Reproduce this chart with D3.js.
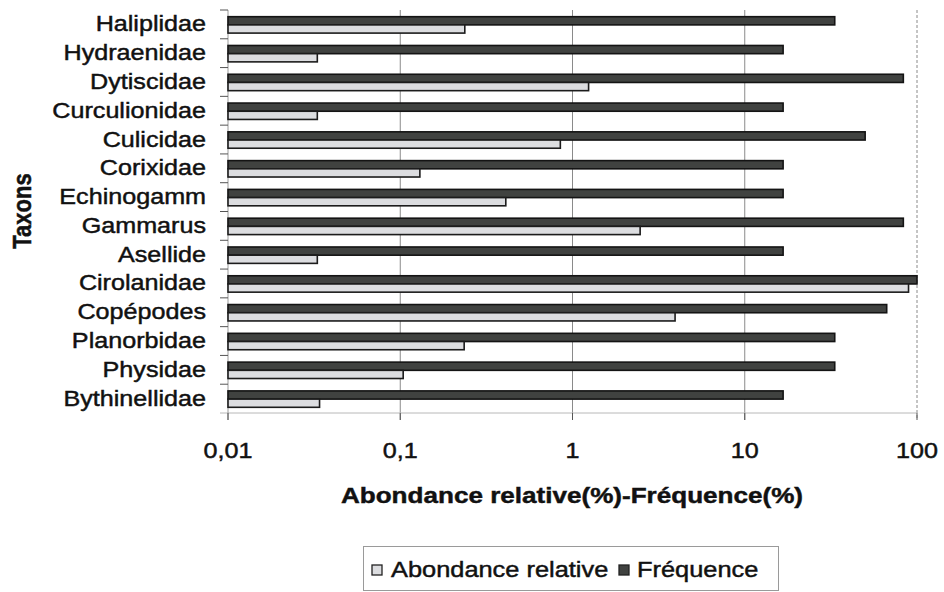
<!DOCTYPE html>
<html>
<head>
<meta charset="utf-8">
<script src="https://cdn.jsdelivr.net/npm/d3@7"></script>
<style>
  html, body { margin: 0; padding: 0; background: #fff; }
  svg { display: block; font-family: "Liberation Sans", Arial, sans-serif; }
  text { stroke: #111; stroke-width: 0.45px; }
</style>
</head>
<body>
<svg id="chart" width="944" height="592"></svg>
<script>
// --- data (log axis, %) ---
const taxa = ['Haliplidae', 'Hydraenidae', 'Dytiscidae', 'Curculionidae', 'Culicidae',
  'Corixidae', 'Echinogamm', 'Gammarus', 'Asellide', 'Cirolanidae', 'Copépodes',
  'Planorbidae', 'Physidae', 'Bythinellidae'];
const frequence = [33.3, 16.7, 83.3, 16.7, 50, 16.7, 16.7, 83.3, 16.7, 100, 66.7, 33.3, 33.3, 16.7];
const abondance = [0.237, 0.033, 1.24, 0.033, 0.85, 0.13, 0.41, 2.47, 0.033, 89.3, 3.94, 0.235, 0.104, 0.034];
const xTicks = [0.01, 0.1, 1, 10, 100];
const seriesNames = ['Abondance relative', 'Fréquence'];

// the scan is stretched sideways, so text gets the same stretch
const SX = 1.17;
const stretch = (x, y) => `translate(${x},${y}) scale(${SX},1)`;

const svg = d3.select('#chart');
const plotL = 228, plotR = 917, plotT = 10, plotB = 413;

const x = d3.scaleLog().domain([0.01, 100]).range([plotL, plotR]);
const y = d3.scaleBand().domain(taxa).range([plotT, plotB]);
const barH = 8.2;

// gridlines
svg.append('g')
  .selectAll('line')
  .data(xTicks.slice(1))
  .join('line')
  .attr('x1', d => x(d)).attr('x2', d => x(d))
  .attr('y1', plotT).attr('y2', plotB + 7)
  .attr('stroke', '#8a8a8a')
  .attr('stroke-width', 1)
  .attr('stroke-dasharray', d => d === 100 ? '3,2' : null);

// axis lines
svg.append('line')
  .attr('x1', plotL - 8).attr('x2', plotR)
  .attr('y1', plotB).attr('y2', plotB)
  .attr('stroke', '#b8b8b8');
svg.append('line')
  .attr('x1', plotL).attr('x2', plotL)
  .attr('y1', plotT).attr('y2', plotB + 7)
  .attr('stroke', '#9a9a9a');

// category ticks (band boundaries)
svg.append('g')
  .selectAll('line')
  .data(taxa)
  .join('line')
  .attr('x1', plotL - 8).attr('x2', plotL)
  .attr('y1', d => y(d)).attr('y2', d => y(d))
  .attr('stroke', '#555');

// bars
const rows = taxa.map((t, i) => ({ t, f: frequence[i], a: abondance[i] }));
const gRows = svg.append('g').selectAll('g')
  .data(rows)
  .join('g')
  .attr('transform', d => `translate(0,${y(d.t) + y.bandwidth() / 2 + 0.5})`);

gRows.append('rect')
  .attr('x', x(0.01))
  .attr('y', -barH)
  .attr('width', d => x(d.f) - x(0.01))
  .attr('height', barH)
  .attr('fill', '#404240')
  .attr('stroke', '#141414')
  .attr('stroke-width', 1.6);

gRows.append('rect')
  .attr('x', x(0.01))
  .attr('y', 0)
  .attr('width', d => x(d.a) - x(0.01))
  .attr('height', barH)
  .attr('fill', '#dcdde0')
  .attr('stroke', '#1c1c1c')
  .attr('stroke-width', 1.6);

// category labels
svg.append('g')
  .selectAll('text')
  .data(taxa)
  .join('text')
  .attr('transform', d => stretch(206, y(d) + y.bandwidth() / 2 + 7))
  .attr('text-anchor', 'end')
  .attr('font-size', 21.5)
  .attr('fill', '#111')
  .text(d => d);

// x tick marks + labels
const fmt = d => String(d).replace('.', ',');
svg.append('g')
  .selectAll('line')
  .data(xTicks)
  .join('line')
  .attr('x1', d => x(d)).attr('x2', d => x(d))
  .attr('y1', plotB).attr('y2', plotB + 7)
  .attr('stroke', '#555');
svg.append('g')
  .selectAll('text')
  .data(xTicks)
  .join('text')
  .attr('transform', d => stretch(x(d), 458))
  .attr('text-anchor', 'middle')
  .attr('font-size', 21.5)
  .attr('fill', '#111')
  .text(fmt);

// axis titles
svg.append('text')
  .attr('transform', stretch(572, 503))
  .attr('text-anchor', 'middle')
  .attr('font-size', 22.3)
  .attr('font-weight', 'bold')
  .attr('fill', '#111')
  .text('Abondance relative(%)-Fréquence(%)');

svg.append('text')
  .attr('transform', `translate(31,211) scale(${SX},1) rotate(-90)`)
  .attr('text-anchor', 'middle')
  .attr('font-size', 22)
  .attr('font-weight', 'bold')
  .attr('fill', '#111')
  .text('Taxons');

// legend
const legend = svg.append('g');
legend.append('rect')
  .attr('x', 363.5).attr('y', 546.5)
  .attr('width', 415).attr('height', 44)
  .attr('fill', '#fff')
  .attr('stroke', '#9a9a9a');
const legendItems = [
  { name: seriesNames[0], fill: '#dcdde0', sx: 372, tx: 391 },
  { name: seriesNames[1], fill: '#404240', sx: 619, tx: 637 }
];
const li = legend.selectAll('g.item')
  .data(legendItems)
  .join('g')
  .attr('class', 'item');
li.append('rect')
  .attr('x', d => d.sx).attr('y', 565)
  .attr('width', 10).attr('height', 10)
  .attr('fill', d => d.fill)
  .attr('stroke', '#222')
  .attr('stroke-width', 1.3);
li.append('text')
  .attr('transform', d => stretch(d.tx, 577))
  .attr('font-size', 21.7)
  .attr('fill', '#111')
  .text(d => d.name);
</script>
</body>
</html>
